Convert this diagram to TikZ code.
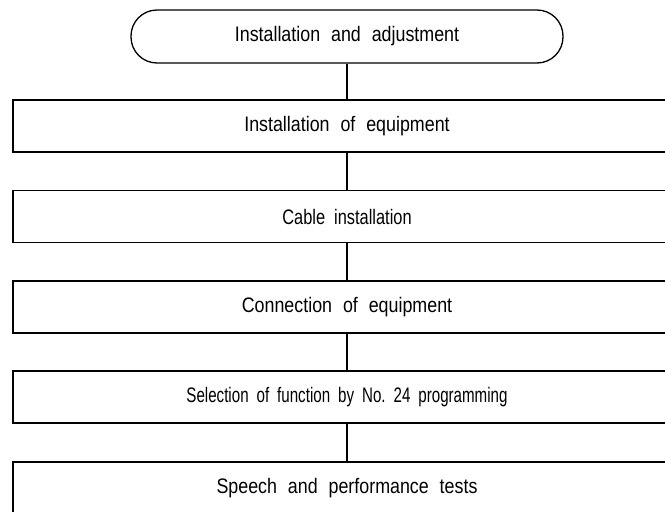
\documentclass[tikz,border=0pt]{standalone}
\usepackage{fontspec}
\setmainfont{Liberation Sans}[FakeStretch=0.85,WordSpace=2.2]
\newfontfamily\narrowsel{Liberation Sans}[FakeStretch=0.72,WordSpace=1.9]
\newfontfamily\narrowcab{Liberation Sans}[FakeStretch=0.78,WordSpace=2.0]
\begin{document}
\begin{tikzpicture}[x=1pt,y=1pt,
  every node/.style={font=\fontsize{21}{23}\selectfont, text=black},
  term/.style={draw, line width=1.3pt, rounded corners=26pt, minimum width=432pt, minimum height=53pt, inner sep=0pt},
  procbox/.style={draw, line width=1.3pt, minimum width=668pt, minimum height=52pt, inner sep=0pt},
  link/.style={line width=1.3pt}]
\useasboundingbox (0,0) rectangle (665,-512);
\node[term] (s) at (347,-36.5) {Installation and adjustment};
\node[procbox] (b1) at (347,-126) {Installation of equipment};
\node[procbox] (b2) at (347,-216.5) {\narrowcab\fontsize{21}{23}\selectfont Cable installation};
\node[procbox] (b3) at (347,-307) {Connection of equipment};
\node[procbox] (b4) at (347,-397) {\narrowsel\fontsize{21}{23}\selectfont Selection of function by No.\ 24 programming};
\node[procbox] (b5) at (347,-488) {Speech and performance tests};
\draw[link] (s) -- (b1);
\draw[link] (b1) -- (b2);
\draw[link] (b2) -- (b3);
\draw[link] (b3) -- (b4);
\draw[link] (b4) -- (b5);
\end{tikzpicture}
\end{document}
